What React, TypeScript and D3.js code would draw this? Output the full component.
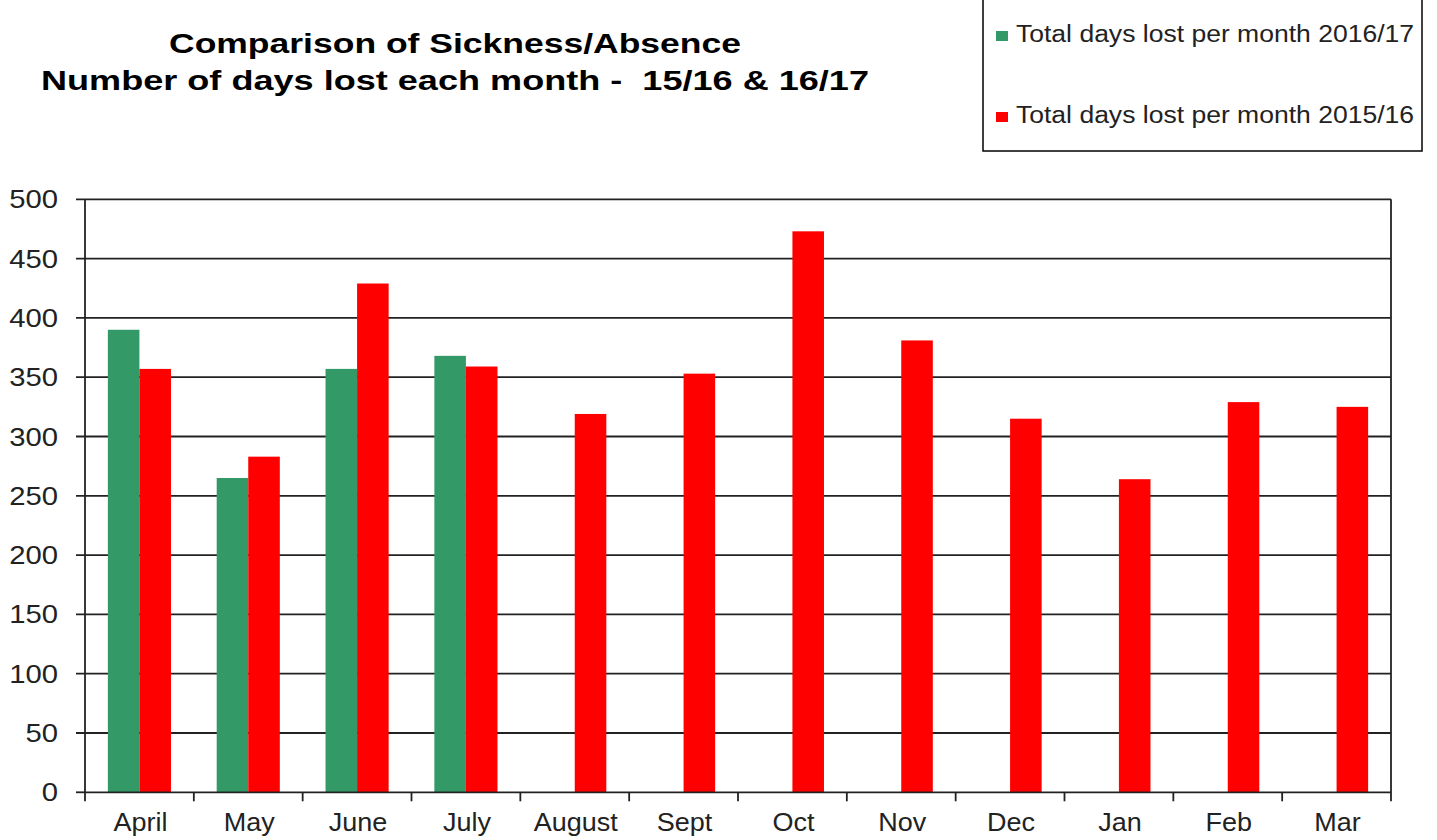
import React from "react";
import * as d3 from "d3";

const months = ["April", "May", "June", "July", "August", "Sept", "Oct", "Nov", "Dec", "Jan", "Feb", "Mar"];
const days1617: (number | null)[] = [390, 265, 357, 368, null, null, null, null, null, null, null, null];
const days1516: number[] = [357, 283, 429, 359, 319, 353, 473, 381, 315, 264, 329, 325];
const yTicks = [0, 50, 100, 150, 200, 250, 300, 350, 400, 450, 500];
const seriesNames = ["Total days lost per month 2016/17", "Total days lost per month 2015/16"];
const titleLines = ["Comparison of Sickness/Absence", "Number of days lost each month -  15/16 & 16/17"];

const GREEN = "#339966";
const RED = "#FF0000";
const FONT = "'Liberation Sans', Arial, Helvetica, sans-serif";

export default function App() {
  const W = 1437, H = 840;
  const left = 85, right = 1391, top = 199.3, bottom = 792.3;
  const x = d3.scaleBand<string>().domain(months).range([left, right]).padding(0);
  const y = d3.scaleLinear().domain([0, 500]).range([bottom, top]);
  const bw = x.step() * 0.29;
  const titleLens = [572, 828];

  return (
    <svg width={W} height={H} style={{ position: "absolute", left: 0, top: 0, background: "#fff" }} fontFamily={FONT}>
      <rect x={0} y={0} width={W} height={H} fill="#fff" />
      {/* title */}
      {titleLines.map((t, i) => (
        <text key={i} x={455} y={53 + i * 37} textAnchor="middle" fontWeight="bold" fontSize={28} fill="#000"
          textLength={titleLens[i]} lengthAdjust="spacingAndGlyphs" style={{ whiteSpace: "pre" }}>
          {t}
        </text>
      ))}
      {/* legend */}
      <rect x={983} y={-2} width={439} height={153} fill="#fff" stroke="#000" strokeWidth={1.5} />
      {seriesNames.map((s, i) => (
        <g key={s}>
          <rect x={996} y={i === 0 ? 31 : 112} width={12} height={10} fill={i === 0 ? GREEN : RED} />
          <text x={1016} y={i === 0 ? 42 : 123} fontSize={23} fill="#222" textLength={398} lengthAdjust="spacingAndGlyphs">{s}</text>
        </g>
      ))}
      {/* gridlines and y ticks */}
      {yTicks.map((t) => (
        <g key={t}>
          <line x1={76} x2={t === 0 ? left : right} y1={y(t)} y2={y(t)} stroke="#222" strokeWidth={1.8} />
          <text transform={`translate(58,${y(t)}) scale(1.17,1)`} dy="0.36em" textAnchor="end" fontSize={25} fill="#222">{t}</text>
        </g>
      ))}
      {/* bars */}
      {months.map((m, i) => {
        const c = (x(m) as number) + x.bandwidth() / 2;
        const g = days1617[i];
        return (
          <g key={m}>
            {g != null && <rect x={c - bw} y={y(g)} width={bw} height={y(0) - y(g)} fill={GREEN} />}
            <rect x={c} y={y(days1516[i])} width={bw} height={y(0) - y(days1516[i])} fill={RED} />
          </g>
        );
      })}
      {/* axes */}
      <line x1={left} x2={left} y1={top} y2={bottom} stroke="#222" strokeWidth={1.8} />
      <line x1={right} x2={right} y1={top} y2={bottom + 9} stroke="#222" strokeWidth={1.8} />
      <line x1={left} x2={right} y1={bottom} y2={bottom} stroke="#222" strokeWidth={1.8} />
      {months.map((m) => (
        <line key={m} x1={x(m) as number} x2={x(m) as number} y1={bottom} y2={bottom + 9} stroke="#222" strokeWidth={1.8} />
      ))}
      {months.map((m) => (
        <text key={m} transform={`translate(${(x(m) as number) + x.bandwidth() / 2 + 1},831) scale(1.08,1)`} textAnchor="middle" fontSize={25} fill="#222">{m}</text>
      ))}
    </svg>
  );
}
